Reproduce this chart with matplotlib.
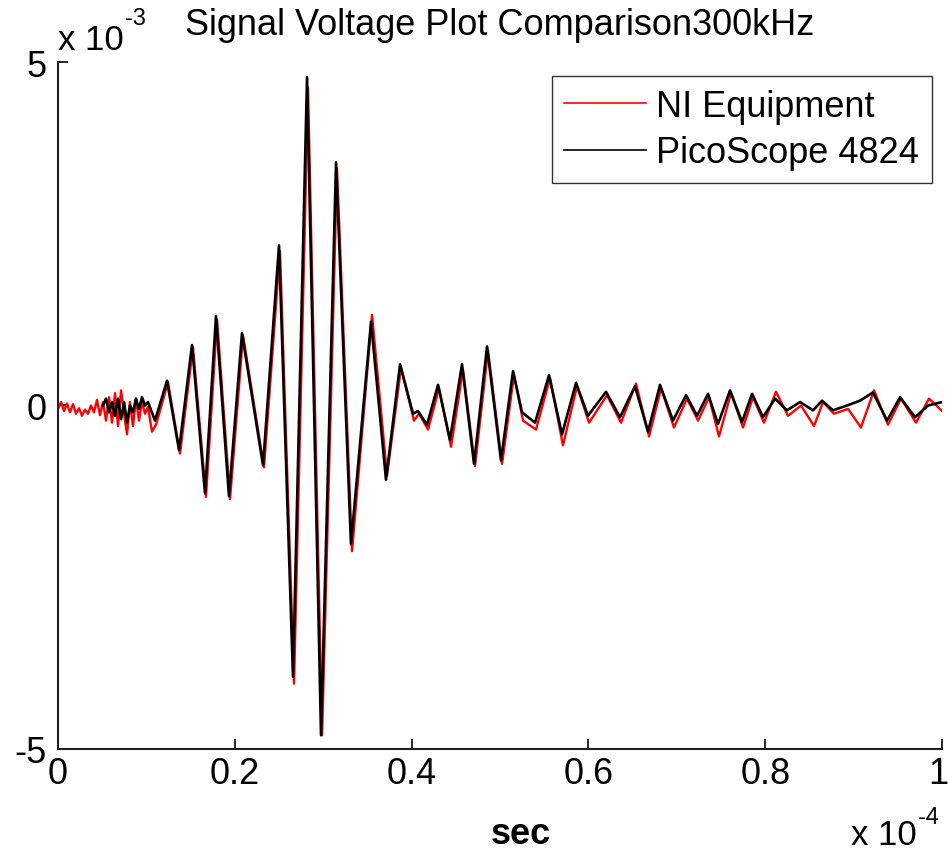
import matplotlib
matplotlib.use("Agg")
import matplotlib.pyplot as plt
from matplotlib.transforms import ScaledTranslation

plt.rcParams["font.family"] = ["Liberation Sans", "DejaVu Sans"]

# time in units of 1e-4 s, voltage in units of 1e-3 V
ni_time = [0.0000, 0.0034, 0.0068, 0.0102, 0.0136, 0.0170, 0.0204, 0.0238, 0.0271, 0.0305,
           0.0339, 0.0373, 0.0407, 0.0441, 0.0475, 0.0509, 0.0543, 0.0577, 0.0611, 0.0645,
           0.0679, 0.0713, 0.0747, 0.0781, 0.0814, 0.0848, 0.0882, 0.0916, 0.0950, 0.0984,
           0.1018, 0.1063, 0.1109, 0.1244, 0.1380, 0.1527, 0.1674, 0.1799, 0.1946, 0.2093,
           0.2330, 0.2511, 0.2670, 0.2828, 0.2987, 0.3156, 0.3326, 0.3552, 0.3722, 0.3880,
           0.4027, 0.4084, 0.4186, 0.4310, 0.4446, 0.4581, 0.4717, 0.4864, 0.5023, 0.5158,
           0.5260, 0.5407, 0.5566, 0.5712, 0.5871, 0.6007, 0.6210, 0.6369, 0.6538, 0.6686,
           0.6822, 0.6968, 0.7115, 0.7240, 0.7364, 0.7477, 0.7613, 0.7749, 0.7862, 0.7986,
           0.8122, 0.8258, 0.8405, 0.8552, 0.8654, 0.8778, 0.8937, 0.9083, 0.9231, 0.9389,
           0.9536, 0.9706, 0.9853, 1.0000]
ni_volt = [-0.05, 0.05, -0.08, 0.03, -0.10, 0.02, -0.12, -0.04, -0.15, -0.06,
           -0.12, 0.00, -0.10, 0.08, -0.14, 0.05, -0.22, 0.12, -0.25, 0.18,
           -0.30, 0.22, -0.12, -0.42, 0.05, -0.30, 0.10, -0.22, 0.06, -0.12,
           -0.02, -0.38, -0.28, 0.34, -0.70, 0.85, -1.33, 1.25, -1.36, 1.02,
           -0.90, 2.25, -4.05, 4.62, -4.80, 3.45, -2.12, 1.32, -1.02, 0.55,
           -0.22, -0.12, -0.35, 0.25, -0.60, 0.52, -0.88, 0.80, -0.85, 0.45,
           -0.22, -0.35, 0.40, -0.58, 0.28, -0.25, 0.15, -0.25, 0.32, -0.45,
           0.25, -0.32, 0.10, -0.22, 0.12, -0.45, 0.18, -0.32, 0.12, -0.25,
           0.20, -0.15, 0.00, -0.30, 0.05, -0.12, -0.05, -0.32, 0.22, -0.28,
           0.10, -0.25, 0.10, -0.08]

pico_time = [0.0509, 0.0543, 0.0577, 0.0611, 0.0645, 0.0679, 0.0713, 0.0747, 0.0781, 0.0814,
             0.0848, 0.0882, 0.0916, 0.0950, 0.0984, 0.1018, 0.1097, 0.1233, 0.1369, 0.1516,
             0.1663, 0.1787, 0.1934, 0.2081, 0.2319, 0.2500, 0.2658, 0.2817, 0.2975, 0.3145,
             0.3314, 0.3541, 0.3710, 0.3869, 0.4016, 0.4072, 0.4174, 0.4299, 0.4434, 0.4570,
             0.4706, 0.4853, 0.5011, 0.5147, 0.5249, 0.5396, 0.5554, 0.5701, 0.5860, 0.5995,
             0.6199, 0.6357, 0.6527, 0.6674, 0.6810, 0.6957, 0.7104, 0.7229, 0.7353, 0.7466,
             0.7602, 0.7738, 0.7851, 0.7975, 0.8111, 0.8247, 0.8394, 0.8541, 0.8643, 0.8767,
             0.8925, 0.9072, 0.9219, 0.9378, 0.9525, 0.9695, 0.9842, 1.0000]
pico_volt = [0.00, 0.10, -0.10, 0.05, -0.15, 0.10, -0.20, 0.05, -0.25, 0.00,
             -0.10, 0.10, -0.05, 0.12, 0.00, 0.05, -0.22, 0.36, -0.65, 0.88,
             -1.28, 1.30, -1.32, 1.05, -0.87, 2.33, -3.95, 4.78, -4.80, 3.54,
             -2.02, 1.22, -1.08, 0.60, -0.12, -0.08, -0.28, 0.30, -0.50, 0.60,
             -0.85, 0.86, -0.80, 0.50, -0.10, -0.25, 0.44, -0.42, 0.33, -0.15,
             0.20, -0.17, 0.28, -0.38, 0.30, -0.22, 0.15, -0.15, 0.17, -0.27,
             0.22, -0.24, 0.17, -0.17, 0.10, -0.07, 0.05, -0.07, 0.07, -0.07,
             0.00, 0.07, 0.19, -0.22, 0.12, -0.17, 0.00, 0.05]

xtick_vals = [0, 0.2, 0.4, 0.6, 0.8, 1]
xtick_text = ["0", "0.2", "0.4", "0.6", "0.8", "1"]
ytick_vals = [-5, 0, 5]
ytick_text = ["-5", "0", "5"]

fig = plt.figure(figsize=(9.48, 8.53), dpi=100)
ax = fig.add_axes([0.0612, 0.1208, 0.9325, 0.8053])

ax.plot(ni_time, ni_volt, color="red", lw=1.7, label="NI Equipment")
ax.plot(pico_time, pico_volt, color="black", lw=1.9, label="PicoScope 4824")

ax.set_xlim(0, 1)
ax.set_ylim(-5, 5)
ax.set_xticks(xtick_vals)
ax.set_xticklabels(xtick_text)
ax.set_yticks(ytick_vals)
ax.set_yticklabels(ytick_text)
ax.tick_params(direction="in", length=7.5, width=1.2, labelsize=26, colors="black")
ax.tick_params(axis="x", pad=5)
ax.tick_params(axis="y", pad=8)
for side in ["top", "right"]:
    ax.spines[side].set_visible(False)
for side in ["left", "bottom"]:
    ax.spines[side].set_linewidth(1.5)
    ax.spines[side].set_color("#222222")

# keep the last x tick label inside the figure
last = ax.get_xticklabels()[-1]
last.set_transform(last.get_transform() + ScaledTranslation(-4 / 100, 0, fig.dpi_scale_trans))

leg = ax.legend(loc="upper right", bbox_to_anchor=(932 / 948, 1 - 77 / 853),
                bbox_transform=fig.transFigure, fontsize=26, frameon=True,
                fancybox=False, handlelength=2.25, handletextpad=0.3,
                borderpad=0.35, labelspacing=0.32, borderaxespad=0)
leg.get_frame().set_edgecolor("black")
leg.get_frame().set_linewidth(1.0)
for line in leg.get_lines():
    line.set_linewidth(1.2)

fig.text(0.527, 1 - 35 / 853, "Signal Voltage Plot Comparison300kHz",
         ha="center", va="baseline", fontsize=26)
fig.text(58 / 948, 1 - 50 / 853, "x 10", ha="left", va="baseline", fontsize=25)
fig.text(125 / 948, 1 - 25 / 853, "-3", ha="left", va="baseline", fontsize=17)
fig.text(851 / 948, 1 - 845 / 853, "x 10", ha="left", va="baseline", fontsize=25)
fig.text(918 / 948, 1 - 824 / 853, "-4", ha="left", va="baseline", fontsize=17)
fig.text(521 / 948, 1 - 844 / 853, "sec", ha="center", va="baseline",
         fontsize=26, fontweight="bold")

fig.savefig("out.png", dpi=100)
